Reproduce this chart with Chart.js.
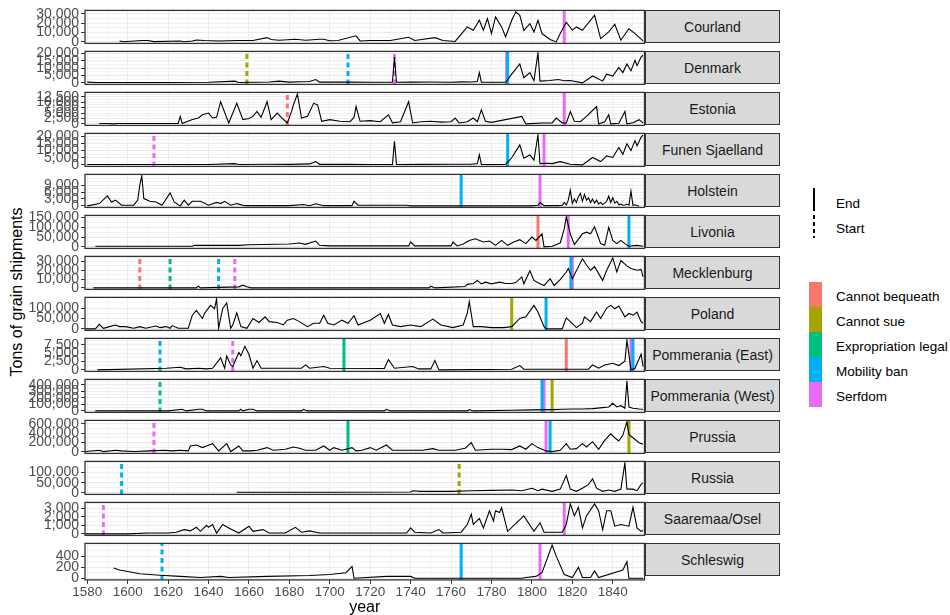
<!DOCTYPE html>
<html>
<head>
<meta charset="utf-8">
<script src="https://cdn.jsdelivr.net/npm/chart.js@4.4.1/dist/chart.umd.min.js"></script>
<style>
  body { margin: 0; background: #fff; font-family: "Liberation Sans", Arial, sans-serif; }
  #page { position: relative; width: 950px; height: 615px; overflow: hidden; }
  .panel { position: absolute; left: 0; width: 646px; }
  .strip { position: absolute; left: 645px; width: 135px; height: 33px; box-sizing: border-box;
           background: #d9d9d9; border: 1px solid #333; color: #1a1a1a; font-size: 14px;
           display: flex; align-items: center; justify-content: center; }
  .ytitle { position: absolute; left: 17px; top: 292px; transform: translate(-50%, -50%) rotate(-90deg);
            white-space: nowrap; font-size: 16px; color: #000; }
  .lg { position: absolute; font-size: 13.5px; color: #000; white-space: nowrap; transform: translateY(-50%); }
  .key { position: absolute; }
</style>
</head>
<body>
<div id="page">
  <div class="ytitle">Tons of grain shipments</div>
</div>
<script>
// facets, top to bottom
const countries = ['Courland', 'Denmark', 'Estonia', 'Funen Sjaelland', 'Holstein', 'Livonia', 'Mecklenburg',
  'Poland', 'Pommerania (East)', 'Pommerania (West)', 'Prussia', 'Russia', 'Saaremaa/Osel', 'Schleswig'];

const categories = ['Cannot bequeath', 'Cannot sue', 'Expropriation legal', 'Mobility ban', 'Serfdom'];
const categoryColors = ['#F8766D', '#A3A500', '#00BF7D', '#00B0F6', '#E76BF3'];
const lineTypes = ['End', 'Start'];

const xBreaks = [1580, 1600, 1620, 1640, 1660, 1680, 1700, 1720, 1740, 1760, 1780, 1800, 1820, 1840];

// [year, tons]
const courland = [[1596,1000],[1598,200],[1607,1500],[1610,1500],[1613,300],[1626,1000],[1628,200],[1632,1000],[1634,2000],[1638,1500],[1645,1000],[1655,1500],[1662,1500],[1669,4600],[1671,2500],[1675,1800],[1683,2800],[1688,1800],[1695,2800],[1697,2800],[1700,1200],[1704,1500],[1713,6500],[1715,1000],[1720,1500],[1730,1500],[1739,5000],[1742,1500],[1752,4500],[1756,1500],[1762,500],[1766,10600],[1768,16000],[1771,12400],[1774,23000],[1776,12400],[1778,24800],[1780,8900],[1782,26600],[1785,16000],[1787,5300],[1790,23000],[1792,32000],[1794,28400],[1796,12400],[1799,19500],[1801,10600],[1803,23000],[1805,8900],[1809,2500],[1812,0],[1814,9000],[1817,21000],[1820,12400],[1822,16000],[1825,12400],[1831,28400],[1834,3500],[1838,10600],[1841,18800],[1844,1800],[1848,14000],[1851,8900],[1855,1000]];
const denmark = [[1580,500],[1585,300],[1600,300],[1620,300],[1640,400],[1653,1200],[1655,300],[1670,600],[1675,1200],[1680,500],[1685,800],[1690,1000],[1693,2300],[1695,500],[1710,500],[1720,400],[1731,500],[1732,17600],[1733,400],[1740,500],[1750,600],[1760,400],[1765,700],[1770,600],[1773,1000],[1774,7000],[1775,500],[1787,400],[1790,6000],[1794,12900],[1796,3500],[1799,7000],[1801,1500],[1803,20400],[1804,1200],[1809,1600],[1813,2300],[1816,1500],[1819,1600],[1825,0],[1830,4700],[1835,1200],[1837,5900],[1840,4700],[1843,10600],[1845,7000],[1847,12900],[1849,8200],[1851,15300],[1852,11700],[1854,17600],[1855,18800]];
const estonia = [[1586,200],[1590,200],[1593,0],[1595,200],[1610,200],[1625,200],[1626,3450],[1627,200],[1632,2000],[1635,2700],[1637,4200],[1640,5000],[1642,2700],[1644,3000],[1646,10200],[1650,450],[1654,9450],[1657,1950],[1660,2500],[1662,3450],[1664,5700],[1666,3000],[1669,10200],[1671,1950],[1674,5000],[1676,3000],[1679,450],[1681,5500],[1682,8700],[1684,13800],[1686,2700],[1689,3500],[1692,9450],[1694,8700],[1696,1200],[1700,1950],[1705,1200],[1710,1000],[1712,3000],[1713,8000],[1715,1200],[1720,1500],[1725,1000],[1729,4200],[1731,500],[1735,1000],[1739,10200],[1741,450],[1745,1000],[1750,1200],[1755,800],[1760,1000],[1762,2700],[1764,450],[1768,1000],[1771,2700],[1773,1000],[1775,6450],[1777,1200],[1780,700],[1795,3450],[1797,0],[1805,400],[1810,450],[1812,2700],[1815,450],[1817,300],[1819,5700],[1821,1200],[1824,1000],[1827,3450],[1832,8000],[1833,0],[1836,1000],[1838,4200],[1839,0],[1843,300],[1846,5700],[1847,0],[1850,500],[1853,1950],[1855,450]];
const funenSjaelland = [[1580,300],[1600,300],[1620,300],[1640,300],[1653,900],[1655,300],[1670,500],[1680,400],[1690,700],[1693,2300],[1695,400],[1710,400],[1720,300],[1731,400],[1732,16500],[1733,300],[1745,400],[1760,500],[1770,500],[1773,900],[1774,7000],[1775,400],[1787,300],[1790,5000],[1794,14000],[1796,4700],[1799,7000],[1801,3300],[1803,21000],[1804,900],[1808,1200],[1810,900],[1814,2300],[1819,500],[1825,0],[1830,5200],[1834,2300],[1837,6300],[1840,5200],[1843,12200],[1845,7500],[1847,14800],[1849,10000],[1851,17000],[1852,13400],[1854,19300],[1855,21000]];
const holstein = [[1580,0],[1586,1000],[1590,4350],[1592,1700],[1594,2500],[1597,300],[1603,300],[1605,2500],[1606,9000],[1607,13000],[1608,3200],[1611,2000],[1614,1700],[1617,300],[1621,5650],[1623,1700],[1626,0],[1628,2500],[1630,300],[1632,2000],[1636,2000],[1640,300],[1644,1500],[1646,1000],[1648,2000],[1651,300],[1654,1000],[1658,100],[1680,100],[1687,600],[1690,100],[1693,900],[1697,100],[1711,100],[1712,2000],[1714,300],[1738,300],[1740,0],[1800,0],[1803,300],[1804,1450],[1806,100],[1812,100],[1815,200],[1816,1500],[1817,400],[1818,2500],[1819,6800],[1820,1000],[1821,3000],[1822,1500],[1823,4000],[1824,5400],[1825,2000],[1826,5000],[1827,2500],[1828,3500],[1829,1500],[1830,3000],[1831,1200],[1832,2500],[1833,800],[1834,1500],[1835,600],[1836,1200],[1837,2000],[1838,4200],[1839,1500],[1840,3500],[1841,1200],[1842,2000],[1843,500],[1844,800],[1845,300],[1846,400],[1847,800],[1848,300],[1849,6400],[1850,300],[1851,500],[1852,200],[1853,0]];
const livonia = [[1584,3300],[1632,3300],[1633,8000],[1655,8000],[1660,11000],[1680,15000],[1685,20000],[1688,13000],[1693,30000],[1695,8000],[1700,5000],[1739,5000],[1740,25000],[1742,5000],[1760,5000],[1761,25000],[1763,5000],[1766,15000],[1769,33000],[1772,41700],[1776,25000],[1779,30000],[1782,8000],[1785,33000],[1788,8000],[1791,25000],[1794,36700],[1797,16700],[1800,50000],[1802,33000],[1805,66700],[1806,0],[1810,3300],[1814,20000],[1816,91700],[1817,153000],[1819,66700],[1821,11700],[1825,66700],[1827,75000],[1829,66700],[1831,103000],[1834,16700],[1836,8000],[1838,100000],[1840,33000],[1842,16700],[1844,33000],[1846,16700],[1848,3300],[1852,8000],[1855,3300]];
const mecklenburg = [[1583,0],[1634,0],[1635,2000],[1636,0],[1655,1200],[1657,3100],[1659,1200],[1661,0],[1700,0],[1749,0],[1750,1900],[1752,0],[1767,1500],[1768,4000],[1771,5000],[1773,8500],[1775,4600],[1777,6500],[1780,4600],[1784,6500],[1787,5000],[1790,5000],[1792,6000],[1795,12400],[1796,4600],[1799,19400],[1801,8500],[1804,4600],[1806,2700],[1809,10500],[1811,2700],[1814,9300],[1817,18000],[1818,22000],[1820,10500],[1825,33000],[1827,26000],[1829,20000],[1831,24000],[1835,8500],[1837,20000],[1840,34000],[1842,18000],[1844,31000],[1847,25000],[1849,22000],[1852,20000],[1854,21000],[1855,12400]];
const poland = [[1579,0],[1584,0],[1586,22000],[1588,3000],[1591,11000],[1594,18800],[1596,11000],[1599,11000],[1603,3000],[1606,11000],[1609,3000],[1614,14000],[1616,6000],[1619,11000],[1621,3000],[1622,16000],[1625,3000],[1630,3000],[1632,66000],[1634,89000],[1637,50000],[1638,74000],[1641,113000],[1643,97000],[1644,144000],[1645,3000],[1647,97000],[1649,125000],[1651,3000],[1652,19000],[1654,77000],[1656,11000],[1659,3000],[1662,50000],[1665,31000],[1668,58000],[1670,35000],[1674,31000],[1677,19000],[1679,42000],[1682,50000],[1685,35000],[1689,11000],[1692,27000],[1695,27000],[1697,66000],[1699,27000],[1702,19000],[1706,42000],[1709,27000],[1712,63000],[1714,19000],[1720,42000],[1725,74000],[1727,27000],[1729,69000],[1731,19000],[1735,11000],[1740,19000],[1745,11000],[1751,47000],[1755,19000],[1761,6000],[1766,19000],[1768,74000],[1769,131000],[1771,11000],[1775,11000],[1780,6000],[1786,6000],[1790,11000],[1794,50000],[1797,58000],[1801,113000],[1803,81000],[1806,11000],[1807,0],[1815,0],[1817,53000],[1819,35000],[1822,6000],[1825,27000],[1826,58000],[1829,35000],[1832,81000],[1834,50000],[1837,100000],[1839,113000],[1841,97000],[1843,110000],[1846,58000],[1848,74000],[1850,66000],[1852,81000],[1854,35000],[1855,27000]];
const pommeraniaEast = [[1585,0],[1619,500],[1626,800],[1629,300],[1635,500],[1639,300],[1642,500],[1646,3600],[1648,500],[1649,4200],[1651,1500],[1652,1000],[1655,5200],[1656,4200],[1658,7100],[1660,4700],[1662,500],[1664,2800],[1666,500],[1686,500],[1688,1500],[1690,500],[1697,1000],[1700,500],[1727,400],[1729,3100],[1732,500],[1741,1000],[1744,300],[1750,300],[1752,2800],[1754,0],[1790,200],[1794,1300],[1796,200],[1828,200],[1830,1500],[1833,500],[1836,1500],[1840,2000],[1843,1300],[1846,2600],[1847,9000],[1849,0],[1851,500],[1854,4700],[1855,1000]];
const pommeraniaWest = [[1584,0],[1620,0],[1627,25000],[1629,0],[1635,25000],[1637,25000],[1639,0],[1655,0],[1656,25000],[1657,0],[1660,25000],[1662,25000],[1664,0],[1686,0],[1687,25000],[1689,0],[1727,0],[1728,25000],[1730,0],[1768,0],[1769,20000],[1771,0],[1790,10000],[1800,15000],[1805,20000],[1810,20000],[1815,25000],[1820,30000],[1825,30000],[1830,35000],[1835,50000],[1838,60000],[1840,117000],[1842,60000],[1844,80000],[1846,40000],[1847,460000],[1848,60000],[1850,40000],[1853,30000],[1855,25000]];
const prussia = [[1579,7000],[1586,35000],[1588,7000],[1594,35000],[1597,21000],[1603,7000],[1611,21000],[1618,35000],[1622,21000],[1626,35000],[1630,21000],[1631,126000],[1634,147000],[1637,91000],[1639,126000],[1642,175000],[1645,21000],[1649,175000],[1651,7000],[1655,126000],[1657,21000],[1661,21000],[1664,35000],[1669,91000],[1672,35000],[1678,56000],[1682,105000],[1685,77000],[1688,35000],[1693,35000],[1697,126000],[1700,35000],[1702,91000],[1706,35000],[1711,91000],[1713,21000],[1716,35000],[1720,91000],[1723,35000],[1728,147000],[1731,35000],[1740,35000],[1746,35000],[1751,70000],[1754,35000],[1762,35000],[1767,77000],[1770,196000],[1772,35000],[1780,56000],[1785,56000],[1790,49000],[1794,126000],[1797,56000],[1800,175000],[1803,91000],[1807,21000],[1810,7000],[1814,35000],[1817,175000],[1819,56000],[1822,70000],[1825,175000],[1827,105000],[1830,217000],[1833,56000],[1836,245000],[1839,385000],[1841,301000],[1843,231000],[1845,357000],[1847,637000],[1848,371000],[1850,301000],[1853,196000],[1855,161000]];
const russia = [[1654,3000],[1700,3000],[1740,4600],[1741,10800],[1745,7700],[1760,7700],[1770,10800],[1780,12300],[1790,13900],[1795,10800],[1800,23000],[1803,10800],[1805,18500],[1810,7700],[1814,18500],[1817,85000],[1819,18500],[1822,7700],[1825,23000],[1828,41700],[1830,69000],[1832,23000],[1835,7700],[1838,13900],[1841,7700],[1844,18500],[1846,147000],[1847,18500],[1850,18500],[1852,10800],[1854,41700],[1855,49000]];
const saaremaaOsel = [[1579,0],[1600,0],[1610,100],[1620,100],[1624,200],[1628,500],[1631,350],[1634,770],[1636,300],[1639,1000],[1640,770],[1642,1100],[1644,100],[1647,1100],[1650,700],[1655,100],[1660,900],[1662,300],[1667,500],[1670,100],[1678,100],[1683,770],[1686,200],[1690,350],[1695,100],[1700,100],[1720,100],[1738,100],[1740,700],[1742,200],[1750,100],[1754,500],[1756,100],[1765,200],[1768,1100],[1770,2300],[1771,1100],[1774,1800],[1776,700],[1779,2700],[1781,1500],[1782,2700],[1784,2500],[1785,3050],[1788,300],[1796,2100],[1801,300],[1804,1300],[1806,200],[1815,200],[1817,1100],[1819,3500],[1821,2100],[1823,3100],[1825,700],[1827,2100],[1831,3500],[1833,2700],[1835,500],[1837,2700],[1839,2700],[1841,900],[1844,1100],[1848,900],[1850,3100],[1852,700],[1854,300],[1855,400]];
const schleswig = [[1593,187],[1596,150],[1606,80],[1616,53],[1626,33],[1636,13],[1646,33],[1650,13],[1669,33],[1690,50],[1700,67],[1708,100],[1711,213],[1712,0],[1728,33],[1740,33],[1742,0],[1795,0],[1797,13],[1802,33],[1805,100],[1810,600],[1812,400],[1816,67],[1820,13],[1823,200],[1825,13],[1829,13],[1831,133],[1833,13],[1845,147],[1847,300],[1848,0],[1855,0]];

const series = [courland, denmark, estonia, funenSjaelland, holstein, livonia, mecklenburg,
  poland, pommeraniaEast, pommeraniaWest, prussia, russia, saaremaaOsel, schleswig];

// y tick labels for each facet
const yBreaks = [
  [0, 10000, 20000, 30000],
  [0, 5000, 10000, 15000, 20000],
  [0, 2500, 5000, 7500, 10000, 12500],
  [0, 5000, 10000, 15000, 20000],
  [0, 3000, 6000, 9000],
  [0, 50000, 100000, 150000],
  [0, 10000, 20000, 30000],
  [0, 50000, 100000],
  [0, 2500, 5000, 7500],
  [0, 100000, 200000, 300000, 400000],
  [0, 200000, 400000, 600000],
  [0, 50000, 100000],
  [0, 1000, 2000, 3000],
  [0, 200, 400]
];

// [country, year, category, type]
const policyEvents = [
  ['Courland', 1816, 'Serfdom', 'End'],
  ['Denmark', 1659, 'Cannot sue', 'Start'],
  ['Denmark', 1709, 'Mobility ban', 'Start'],
  ['Denmark', 1732, 'Serfdom', 'Start'],
  ['Denmark', 1787.5, 'Serfdom', 'End'],
  ['Denmark', 1788, 'Mobility ban', 'End'],
  ['Estonia', 1679, 'Cannot bequeath', 'Start'],
  ['Estonia', 1816, 'Serfdom', 'End'],
  ['Funen Sjaelland', 1613, 'Serfdom', 'Start'],
  ['Funen Sjaelland', 1788, 'Mobility ban', 'End'],
  ['Funen Sjaelland', 1806, 'Serfdom', 'End'],
  ['Holstein', 1765, 'Mobility ban', 'End'],
  ['Holstein', 1804, 'Serfdom', 'End'],
  ['Livonia', 1803, 'Cannot bequeath', 'End'],
  ['Livonia', 1818, 'Serfdom', 'End'],
  ['Livonia', 1848, 'Mobility ban', 'End'],
  ['Mecklenburg', 1606, 'Cannot bequeath', 'Start'],
  ['Mecklenburg', 1621, 'Expropriation legal', 'Start'],
  ['Mecklenburg', 1645, 'Mobility ban', 'Start'],
  ['Mecklenburg', 1653, 'Serfdom', 'Start'],
  ['Mecklenburg', 1820, 'Serfdom', 'End'],
  ['Mecklenburg', 1819.3, 'Mobility ban', 'End'],
  ['Poland', 1790, 'Cannot sue', 'End'],
  ['Poland', 1807, 'Mobility ban', 'End'],
  ['Pommerania (East)', 1616, 'Mobility ban', 'Start'],
  ['Pommerania (East)', 1652, 'Serfdom', 'Start'],
  ['Pommerania (East)', 1707, 'Expropriation legal', 'End'],
  ['Pommerania (East)', 1817, 'Cannot bequeath', 'End'],
  ['Pommerania (East)', 1849, 'Serfdom', 'End'],
  ['Pommerania (East)', 1850, 'Mobility ban', 'End'],
  ['Pommerania (West)', 1616, 'Expropriation legal', 'Start'],
  ['Pommerania (West)', 1806, 'Serfdom', 'End'],
  ['Pommerania (West)', 1805, 'Mobility ban', 'End'],
  ['Pommerania (West)', 1810, 'Cannot sue', 'End'],
  ['Prussia', 1613, 'Serfdom', 'Start'],
  ['Prussia', 1709, 'Expropriation legal', 'End'],
  ['Prussia', 1807, 'Serfdom', 'End'],
  ['Prussia', 1809, 'Mobility ban', 'End'],
  ['Prussia', 1848, 'Cannot sue', 'End'],
  ['Russia', 1597, 'Mobility ban', 'Start'],
  ['Russia', 1764, 'Cannot sue', 'Start'],
  ['Saaremaa/Osel', 1588, 'Serfdom', 'Start'],
  ['Saaremaa/Osel', 1816, 'Serfdom', 'End'],
  ['Schleswig', 1617, 'Mobility ban', 'Start'],
  ['Schleswig', 1765, 'Mobility ban', 'End'],
  ['Schleswig', 1804, 'Serfdom', 'End']
];

const X_MIN = 1578.9, X_MAX = 1855.7;
const TOP0 = 10, STEP = 41, PANEL_H = 33;
const FONT = "'Liberation Sans', Arial, sans-serif";
const page = document.getElementById('page');

// breaks plus ggplot style minor breaks (midpoints, one step past each end)
function gridValues(br, lo, hi) {
  const step = br[1] - br[0];
  const ext = [br[0] - step].concat(br, [br[br.length - 1] + step]);
  let out = [];
  for (let i = 0; i < ext.length - 1; i++) {
    out.push(ext[i], ext[i] + step / 2);
  }
  out.push(ext[ext.length - 1]);
  return out.filter(v => v >= lo && v <= hi);
}

const panelBorder = {
  id: 'panelBorder',
  afterDatasetsDraw(chart) {
    const a = chart.chartArea, ctx = chart.ctx;
    ctx.save();
    ctx.strokeStyle = '#333333';
    ctx.lineWidth = 1.3;
    ctx.strokeRect(a.left, a.top, a.right - a.left, a.bottom - a.top);
    ctx.restore();
  }
};

function fmt(v) { return Number(v).toLocaleString('en-US'); }

function makePanel(k) {
  const name = countries[k];
  const pts = series[k];
  const br = yBreaks[k];
  const isLast = k === countries.length - 1;
  const top = TOP0 + STEP * k;

  const maxV = Math.max(...pts.map(p => p[1]));
  const yMin = -0.05 * maxV, yMax = 1.05 * maxV;
  const yGrid = gridValues(br, yMin, yMax);
  const xGrid = gridValues(xBreaks, X_MIN, X_MAX);

  const box = document.createElement('div');
  box.className = 'panel';
  box.style.height = (isLast ? 110 : 53) + 'px';
  box.style.top = (top - 10) + 'px';
  const cv = document.createElement('canvas');
  box.appendChild(cv);
  page.appendChild(box);

  const strip = document.createElement('div');
  strip.className = 'strip';
  strip.style.top = top + 'px';
  strip.textContent = name;
  page.appendChild(strip);

  const datasets = [{
    data: pts.map(p => ({x: p[0], y: p[1]})),
    borderColor: '#000',
    borderWidth: 1.1,
    pointRadius: 0,
    tension: 0,
    order: 0
  }];
  const evs = policyEvents.filter(e => e[0] === name);
  evs.forEach((e, i) => {
    datasets.push({
      data: [{x: e[1], y: yMin}, {x: e[1], y: yMax}],
      borderColor: categoryColors[categories.indexOf(e[2])],
      borderWidth: 3,
      borderDash: e[3] === 'Start' ? [5, 3.5] : [],
      pointRadius: 0,
      order: 100 - i
    });
  });

  const chart = new Chart(cv, {
    type: 'line',
    data: { datasets: datasets },
    options: {
      responsive: true,
      maintainAspectRatio: false,
      animation: false,
      events: [],
      layout: { padding: { top: 10, bottom: isLast ? 0 : 10, left: 0, right: 1 } },
      plugins: { legend: { display: false }, tooltip: { enabled: false } },
      scales: {
        x: {
          type: 'linear',
          min: X_MIN,
          max: X_MAX,
          afterBuildTicks: s => { s.ticks = xGrid.map(v => ({value: v})); },
          border: { display: false },
          grid: {
            color: c => xBreaks.includes(c.tick.value) ? '#ebebeb' : '#f3f3f3',
            lineWidth: 1,
            drawTicks: isLast,
            tickLength: 4,
            tickColor: c => xBreaks.includes(c.tick.value) ? '#333333' : 'rgba(0,0,0,0)'
          },
          ticks: {
            display: isLast,
            autoSkip: false,
            maxRotation: 0,
            padding: 0,
            color: '#4d4d4d',
            font: { family: FONT, size: 13.5 },
            callback: v => xBreaks.includes(v) ? String(v) : ''
          },
          title: {
            display: isLast,
            text: 'year',
            color: '#000',
            font: { family: FONT, size: 16 },
            padding: { top: 1, bottom: 0 }
          }
        },
        y: {
          type: 'linear',
          min: yMin,
          max: yMax,
          afterBuildTicks: s => { s.ticks = yGrid.map(v => ({value: v})); },
          afterFit: s => { s.width = 85; },
          border: { display: false },
          grid: {
            color: c => br.includes(c.tick.value) ? '#ebebeb' : '#f3f3f3',
            lineWidth: 1,
            tickLength: 4,
            tickColor: c => br.includes(c.tick.value) ? '#333333' : 'rgba(0,0,0,0)'
          },
          ticks: {
            autoSkip: false,
            padding: 2,
            color: '#4d4d4d',
            font: { family: FONT, size: 14 },
            callback: v => br.includes(v) ? fmt(v) : ''
          }
        }
      }
    },
    plugins: [panelBorder]
  });

  // line up the plotting area with the facet grid
  let a = chart.chartArea;
  const h = a.bottom - a.top;
  if (Math.abs(h - PANEL_H) > 0.01) {
    box.style.height = (box.clientHeight + PANEL_H - h) + 'px';
    chart.resize();
  }
  box.style.top = (top - chart.chartArea.top) + 'px';
}

countries.forEach((c, k) => makePanel(k));

// legend: line type
function addEl(cls, css, text) {
  const d = document.createElement('div');
  d.className = cls;
  Object.assign(d.style, css);
  if (text) d.textContent = text;
  page.appendChild(d);
  return d;
}
addEl('key', { left: '813px', top: '188px', width: '2px', height: '23px', background: '#000' });
addEl('lg', { left: '836px', top: '203px' }, lineTypes[0]);
addEl('key', { left: '813px', top: '215px', width: '2px', height: '23px',
  background: 'repeating-linear-gradient(to bottom, #000 0 4px, transparent 4px 7px)' });
addEl('lg', { left: '836px', top: '228px' }, lineTypes[1]);

// legend: category colours
categories.forEach((c, i) => {
  addEl('key', { left: '809px', top: (282 + 25 * i) + 'px', width: '13px', height: '25px', background: categoryColors[i] });
  addEl('lg', { left: '836px', top: (295.5 + 25 * i) + 'px' }, c);
});
</script>
</body>
</html>
